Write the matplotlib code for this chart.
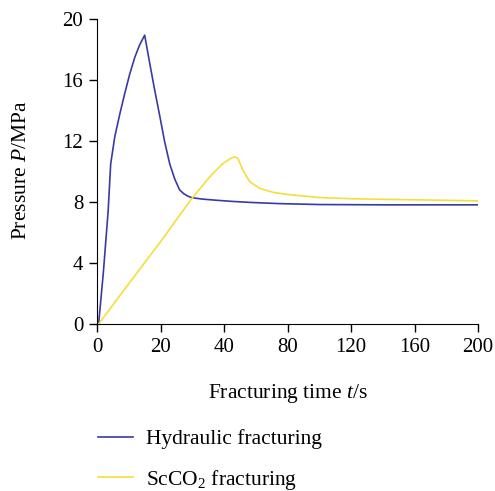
import matplotlib
matplotlib.use("Agg")
import matplotlib.pyplot as plt

plt.rcParams["font.family"] = "Liberation Serif"
plt.rcParams["mathtext.fontset"] = "custom"
plt.rcParams["mathtext.rm"] = "Liberation Serif"
plt.rcParams["mathtext.it"] = "Liberation Serif:italic"

# x positions on the evenly spaced axis (ticks every 20 units)
tick_pos = [0, 20, 40, 60, 80, 100, 120]
tick_labels = ["0", "20", "40", "80", "120", "160", "200"]
y_ticks = [0, 4, 8, 12, 16, 20]

hyd_t = [0.5, 2.0, 3.5, 4.3, 5.6, 7.2, 8.7, 10.3, 11.9, 13.4, 15.0,
         16.6, 18.2, 19.8, 21.3, 22.9, 24.5, 26.0, 27.3, 28.7, 29.7,
         33, 37.6, 43, 48.1, 57.5, 70, 90, 120]
hyd_p = [0, 3.4, 7.4, 10.5, 12.3, 13.8, 15.1, 16.4, 17.5, 18.3, 18.95,
         17.1, 15.3, 13.6, 11.95, 10.5, 9.5, 8.8, 8.55, 8.38, 8.3,
         8.2, 8.12, 8.04, 7.98, 7.9, 7.84, 7.82, 7.82]

co2_t = [0.5, 10, 20, 29.7, 32.5, 35.5, 39.7, 42.2, 43.4, 44.4, 45.5, 46.5,
         48.1, 51.2, 55.4, 60, 70, 80, 100, 120]
co2_p = [0, 2.65, 5.4, 8.2, 8.9, 9.66, 10.54, 10.88, 10.97, 10.86, 10.3, 9.88,
         9.33, 8.9, 8.64, 8.5, 8.3, 8.22, 8.15, 8.08]

fig = plt.figure(figsize=(4.95, 4.91), dpi=100)
ax = fig.add_axes([0.196, 0.340, 0.770, 0.621])

l1, = ax.plot(hyd_t, hyd_p, color="#3a3aa6", lw=1.2)
l2, = ax.plot(co2_t, co2_p, color="#f3df3a", lw=1.2)

ax.set_xlim(0, 120)
ax.set_ylim(0, 20)
ax.set_xticks(tick_pos)
ax.set_xticklabels(tick_labels)
ax.set_yticks(y_ticks)
ax.spines["top"].set_visible(False)
ax.spines["right"].set_visible(False)
ax.tick_params(direction="out", length=6, width=1, labelsize=15, pad=4)

fig.text(0.044, 0.654, "Pressure $P$/MPa", rotation=90, ha="center", va="center",
         fontsize=15.5)
fig.text(0.582, 0.198, "Fracturing time $t$/s", ha="center", va="center",
         fontsize=15.5)

fig.legend([l1, l2], ["Hydraulic fracturing", "ScCO$_2$ fracturing"],
           loc="center left", bbox_to_anchor=(0.158, 0.062), frameon=False,
           fontsize=15.5, handlelength=1.65, handletextpad=0.6, labelspacing=0.85)

fig.savefig("out.png", dpi=100)
